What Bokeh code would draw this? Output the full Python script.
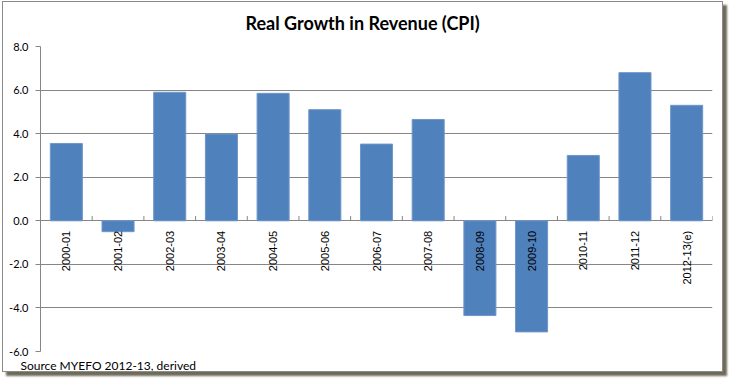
import math
from bokeh.plotting import figure
from bokeh.models import Range1d, NumeralTickFormatter, FixedTicker, Title, ColumnDataSource
from bokeh.core.properties import value
from bokeh.embed import file_html
from bokeh.resources import INLINE

title_text = "Real Growth in Revenue (CPI)"
source_text = "Source MYEFO 2012-13,  derived"
years = ["2000-01", "2001-02", "2002-03", "2003-04", "2004-05", "2005-06", "2006-07",
         "2007-08", "2008-09", "2009-10", "2010-11", "2011-12", "2012-13(e)"]
growth = [3.55, -0.5, 5.9, 3.98, 5.85, 5.1, 3.52, 4.65, -4.35, -5.1, 3.0, 6.8, 5.3]
y_ticks = [-6, -4, -2, 0, 2, 4, 6, 8]

n = len(years)
y_lo, y_hi = min(y_ticks), max(y_ticks)
centers = [i + 0.5 for i in range(n)]
bounds = list(range(n + 1))

src = ColumnDataSource(dict(x=centers, top=growth, label=years, zero=[0] * n))

p = figure(width=721, height=371, x_range=Range1d(0, n), y_range=Range1d(y_lo, y_hi),
           output_backend="svg", toolbar_location=None,
           min_border_left=37, min_border_right=12, min_border_top=44, min_border_bottom=22)
p.styles = {"border": "1px solid #8a8a8a", "box-shadow": "4px 4px 2px #6e6a5a",
            "margin-left": "2px", "margin-top": "1px"}

p.outline_line_color = None
p.xaxis.visible = False
p.xgrid.visible = False

gray = "#868686"
yax = p.yaxis[0]
yax.ticker = FixedTicker(ticks=y_ticks)
yax.formatter = NumeralTickFormatter(format="0.0")
yax.axis_line_color = gray
yax.major_tick_line_color = gray
yax.major_tick_out = 5
yax.major_tick_in = 0
yax.minor_tick_line_color = None
yax.major_label_standoff = 7
yax.major_label_text_font = "Lato"
yax.major_label_text_font_size = "11px"
yax.major_label_text_color = "black"

p.ygrid.ticker = FixedTicker(ticks=y_ticks)
p.ygrid.grid_line_color = gray
p.ygrid.grid_line_width = 1

p.vbar(x="x", top="top", bottom=0, width=0.62, source=src,
       fill_color="#4F81BD", line_color="#7096C8", line_width=1)

tick_len = 0.22
p.segment(x0=bounds, y0=[0] * (n + 1), x1=bounds, y1=[tick_len] * (n + 1),
          line_color=gray, line_width=1)

p.text(x="x", y="zero", text="label", source=src, angle=math.pi / 2,
       text_align="right", text_baseline="middle", y_offset=10,
       text_font=value("Liberation Sans"), text_font_size="11px", text_color="black")

# spacer above the frame, then the chart title
p.add_layout(Title(text=" ", text_font_size="9px", standoff=0), "above")
p.add_layout(Title(text=title_text, align="left", offset=205, vertical_align="middle",
                   text_font="Lato", text_font_size="18px", text_font_style="bold",
                   text_color="black", standoff=0), "above")

# spacer below the frame, then the source note
p.add_layout(Title(text=" ", text_font_size="3px", standoff=0), "below")
p.add_layout(Title(text=source_text, align="left", offset=-20, vertical_align="middle",
                   text_font="Lato", text_font_size="12px", text_font_style="normal",
                   text_color="black", standoff=0, text_line_height=1.0), "below")

open("out.html", "w").write(file_html(p, INLINE))
